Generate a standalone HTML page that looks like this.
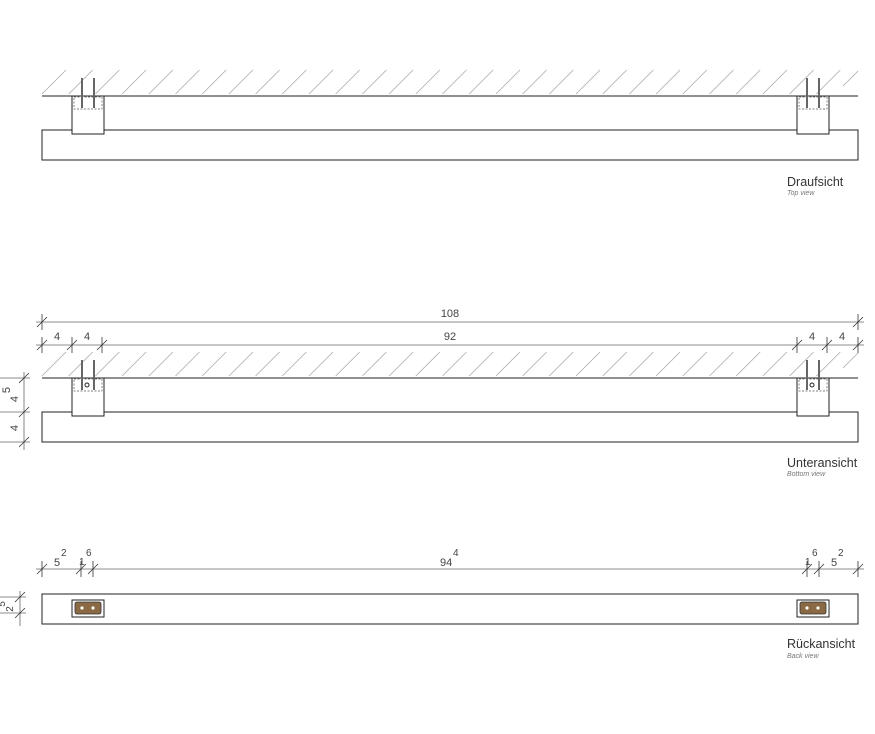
<!DOCTYPE html>
<html><head><meta charset="utf-8"><style>
html,body{margin:0;padding:0;background:#fff;}
svg{display:block;font-family:"Liberation Sans",sans-serif;}
</style></head><body>
<svg width="875" height="734" viewBox="0 0 875 734" xmlns="http://www.w3.org/2000/svg">
<defs>
<g id="hatch" stroke="#aaa" stroke-width="0.8">
<line x1="42" y1="94" x2="66" y2="70"/><line x1="68.7" y1="94" x2="92.7" y2="70"/><line x1="95.4" y1="94" x2="119.4" y2="70"/><line x1="122.1" y1="94" x2="146.1" y2="70"/><line x1="148.8" y1="94" x2="172.8" y2="70"/><line x1="175.5" y1="94" x2="199.5" y2="70"/><line x1="202.2" y1="94" x2="226.2" y2="70"/><line x1="228.9" y1="94" x2="252.9" y2="70"/><line x1="255.6" y1="94" x2="279.6" y2="70"/><line x1="282.3" y1="94" x2="306.3" y2="70"/><line x1="309" y1="94" x2="333" y2="70"/><line x1="335.7" y1="94" x2="359.7" y2="70"/><line x1="362.4" y1="94" x2="386.4" y2="70"/><line x1="389.1" y1="94" x2="413.1" y2="70"/><line x1="415.8" y1="94" x2="439.8" y2="70"/><line x1="442.5" y1="94" x2="466.5" y2="70"/><line x1="469.2" y1="94" x2="493.2" y2="70"/><line x1="495.9" y1="94" x2="519.9" y2="70"/><line x1="522.6" y1="94" x2="546.6" y2="70"/><line x1="549.3" y1="94" x2="573.3" y2="70"/><line x1="576" y1="94" x2="600" y2="70"/><line x1="602.7" y1="94" x2="626.7" y2="70"/><line x1="629.4" y1="94" x2="653.4" y2="70"/><line x1="656.1" y1="94" x2="680.1" y2="70"/><line x1="682.8" y1="94" x2="706.8" y2="70"/><line x1="709.5" y1="94" x2="733.5" y2="70"/><line x1="736.2" y1="94" x2="760.2" y2="70"/><line x1="762.9" y1="94" x2="786.9" y2="70"/><line x1="789.6" y1="94" x2="813.6" y2="70"/><line x1="816.3" y1="94" x2="840.3" y2="70"/><line x1="843" y1="86" x2="858" y2="71"/>
</g>
<g id="brk">
<rect x="0" y="0" width="32" height="38" fill="#fff" stroke="#222" stroke-width="1"/>
<rect x="2" y="1" width="28" height="12" fill="none" stroke="#555" stroke-width="0.7" stroke-dasharray="2,1.5"/>
<line x1="10" y1="-18" x2="10" y2="12" stroke="#666" stroke-width="2"/>
<line x1="22" y1="-18" x2="22" y2="12" stroke="#666" stroke-width="2"/>
</g>
<g id="tick" stroke="#333" stroke-width="0.8"><line x1="-5" y1="5" x2="5" y2="-5"/><line x1="0" y1="-8" x2="0" y2="8"/></g>
</defs>

<!-- TOP VIEW -->
<use href="#hatch"/>
<line x1="42" y1="96" x2="858" y2="96" stroke="#222" stroke-width="1"/>
<rect x="42" y="130" width="816" height="30" fill="#fff" stroke="#222" stroke-width="1"/>
<use href="#brk" x="72" y="96"/>
<use href="#brk" x="797" y="96"/>
<text x="787" y="186" font-size="12.5" fill="#333">Draufsicht</text>
<text x="787" y="195" font-size="7" font-style="italic" fill="#777">Top view</text>

<!-- BOTTOM VIEW -->
<g stroke="#666" stroke-width="0.8">
<line x1="36" y1="322" x2="864" y2="322"/>
<line x1="36" y1="345" x2="864" y2="345"/>
</g>
<use href="#tick" x="42" y="322"/><use href="#tick" x="858" y="322"/>
<use href="#tick" x="42" y="345"/><use href="#tick" x="72" y="345"/><use href="#tick" x="102" y="345"/>
<use href="#tick" x="797" y="345"/><use href="#tick" x="827" y="345"/><use href="#tick" x="858" y="345"/>
<g font-size="11" fill="#444" text-anchor="middle">
<text x="450" y="317">108</text>
<text x="57" y="340">4</text><text x="87" y="340">4</text><text x="450" y="340">92</text>
<text x="812" y="340">4</text><text x="842" y="340">4</text>
</g>
<use href="#hatch" y="282"/>
<line x1="42" y1="378" x2="858" y2="378" stroke="#222" stroke-width="1"/>
<rect x="42" y="412" width="816" height="30" fill="#fff" stroke="#222" stroke-width="1"/>
<use href="#brk" x="72" y="378"/>
<use href="#brk" x="797" y="378"/>
<circle cx="87" cy="385" r="2" fill="none" stroke="#222" stroke-width="1"/>
<circle cx="812" cy="385" r="2" fill="none" stroke="#222" stroke-width="1"/>
<g stroke="#666" stroke-width="0.8">
<line x1="24" y1="372" x2="24" y2="450"/>
<line x1="0" y1="378" x2="30" y2="378"/><line x1="0" y1="412" x2="30" y2="412"/><line x1="0" y1="442" x2="30" y2="442"/>
</g>
<g stroke="#333" stroke-width="0.8"><line x1="19" y1="383" x2="29" y2="373"/><line x1="19" y1="417" x2="29" y2="407"/><line x1="19" y1="447" x2="29" y2="437"/></g>
<g font-size="11" fill="#444" text-anchor="middle">
<text transform="translate(10,390) rotate(-90)">5</text>
<text transform="translate(18,399) rotate(-90)">4</text>
<text transform="translate(18,428) rotate(-90)">4</text>
</g>
<text x="787" y="467" font-size="12.5" fill="#333">Unteransicht</text>
<text x="787" y="476" font-size="7" font-style="italic" fill="#777">Bottom view</text>

<!-- BACK VIEW -->
<line x1="36" y1="569" x2="864" y2="569" stroke="#666" stroke-width="0.8"/>
<use href="#tick" x="42" y="569"/><use href="#tick" x="81" y="569"/><use href="#tick" x="93" y="569"/>
<use href="#tick" x="807" y="569"/><use href="#tick" x="819" y="569"/><use href="#tick" x="858" y="569"/>
<g font-size="11" fill="#444">
<text x="54" y="566">5</text><text x="61" y="556" font-size="10">2</text>
<text x="79" y="565" font-size="10">1</text><text x="86" y="556" font-size="10">6</text>
<text x="440" y="566">94</text><text x="453" y="556" font-size="10">4</text>
<text x="805" y="565" font-size="10">1</text><text x="812" y="556" font-size="10">6</text>
<text x="831" y="566">5</text><text x="838" y="556" font-size="10">2</text>
</g>
<rect x="42" y="594" width="816" height="30" fill="#fff" stroke="#222" stroke-width="1"/>
<g>
<rect x="72" y="600" width="32" height="17" fill="#fff" stroke="#222" stroke-width="1"/>
<rect x="75" y="602" width="26" height="12" rx="2" fill="#8a6a45" stroke="#333" stroke-width="0.8"/>
<circle cx="82" cy="608" r="1.6" fill="#fff"/><circle cx="93" cy="608" r="1.6" fill="#fff"/>
<rect x="797" y="600" width="32" height="17" fill="#fff" stroke="#222" stroke-width="1"/>
<rect x="800" y="602" width="26" height="12" rx="2" fill="#8a6a45" stroke="#333" stroke-width="0.8"/>
<circle cx="807" cy="608" r="1.6" fill="#fff"/><circle cx="818" cy="608" r="1.6" fill="#fff"/>
</g>
<g stroke="#666" stroke-width="0.8">
<line x1="20" y1="591" x2="20" y2="626"/>
<line x1="0" y1="597" x2="26" y2="597"/><line x1="0" y1="613" x2="26" y2="613"/>
</g>
<g stroke="#333" stroke-width="0.8"><line x1="15" y1="602" x2="25" y2="592"/><line x1="15" y1="618" x2="25" y2="608"/></g>
<g font-size="10" fill="#444" text-anchor="middle">
<text transform="translate(5,604) rotate(-90)">5</text>
<text transform="translate(13,609) rotate(-90)">2</text>
</g>
<text x="787" y="648" font-size="12.5" fill="#333">Rückansicht</text>
<text x="787" y="658" font-size="7" font-style="italic" fill="#777">Back view</text>
</svg>
</body></html>
